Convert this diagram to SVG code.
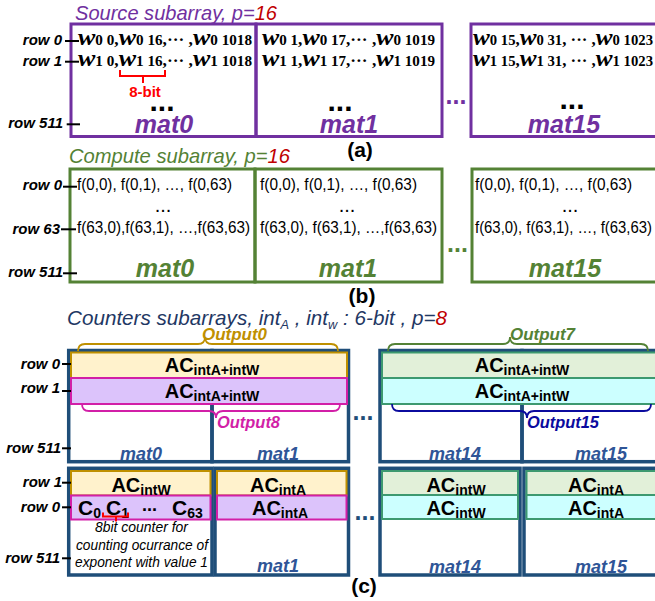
<svg xmlns="http://www.w3.org/2000/svg" width="655" height="601" viewBox="0 0 655 601">
<style>
text{font-family:'Liberation Sans',Arial,sans-serif;fill:#000}
.lbl{font-weight:bold;font-style:italic;font-size:15px;text-anchor:end}
.tick{stroke:#000;stroke-width:2}
.ttl{font-style:italic;font-size:21px}
.fa{fill:none;stroke:#7030A0;stroke-width:3}
.fb{fill:none;stroke:#548235;stroke-width:3}
.fc{fill:none;stroke:#1F4E79;stroke-width:3.5}
.ma{font-weight:bold;font-style:italic;font-size:25px;fill:#7030A0;text-anchor:middle}
.mb{font-weight:bold;font-style:italic;font-size:25px;fill:#548235;text-anchor:middle}
.mc{font-weight:bold;font-style:italic;font-size:18px;fill:#2F5597;text-anchor:middle}
.w{font-family:'Liberation Serif',serif;font-weight:bold;font-size:14px}
.wi{font-style:italic;font-size:24px}
.cm{font-size:16px}
.f{font-size:16px}
.ac{font-weight:bold;font-size:20px;text-anchor:middle}
.s{font-size:14px}
.out{font-weight:bold;font-style:italic;font-size:17px}
.note{font-style:italic;font-size:14px;text-anchor:middle}
.dots{font-weight:bold;text-anchor:middle}
.y{fill:#FFF2CC;stroke:#BF9000;stroke-width:2}
.p{fill:#DCC3FB;stroke:#D21FA7;stroke-width:2}
.g{fill:#E2F0D9;stroke:#3D9970;stroke-width:2}
.c{fill:#CCFFFF;stroke:#3D9970;stroke-width:2}
.br{fill:none;stroke-width:1.8}
</style>

<!-- ===== (a) Source subarray ===== -->
<text class="ttl" x="75" y="20" textLength="202" lengthAdjust="spacingAndGlyphs" style="fill:#7030A0">Source subarray, p=<tspan style="fill:#C00000">16</tspan></text>
<g id="a-rows">
<text class="lbl" x="62" y="45">row 0</text>
<text class="lbl" x="62" y="66">row 1</text>
<text class="lbl" x="63" y="128">row 511</text>
</g>
<g id="a-mat0">
<rect class="fa" x="71" y="24" width="185" height="112.5"/>
<text class="w" x="78" y="45" textLength="174" lengthAdjust="spacingAndGlyphs"><tspan class="wi">w</tspan>0 0<tspan class="cm">,</tspan><tspan class="wi">w</tspan>0 16<tspan class="cm">,··· ,</tspan><tspan class="wi">w</tspan>0 1018</text>
<text class="w" x="78" y="66" textLength="174" lengthAdjust="spacingAndGlyphs"><tspan class="wi">w</tspan>1 0<tspan class="cm">,</tspan><tspan class="wi">w</tspan>1 16<tspan class="cm">,··· ,</tspan><tspan class="wi">w</tspan>1 1018</text>
<path d="M120,70 L120,76 L165,76 L165,70 M143,76 L143,83" fill="none" stroke="#FF0000" stroke-width="2"/>
<text x="145" y="97" style="font-weight:bold;font-size:15px;fill:#FF0000;text-anchor:middle">8-bit</text>
<text class="dots" x="162" y="111" style="font-size:30px">...</text>
<text class="ma" x="164" y="133">mat0</text>
</g>
<g id="a-mat1">
<rect class="fa" x="256" y="24" width="186" height="112.5"/>
<text class="w" x="262" y="45" textLength="173" lengthAdjust="spacingAndGlyphs"><tspan class="wi">w</tspan>0 1<tspan class="cm">,</tspan><tspan class="wi">w</tspan>0 17<tspan class="cm">,··· ,</tspan><tspan class="wi">w</tspan>0 1019</text>
<text class="w" x="262" y="66" textLength="173" lengthAdjust="spacingAndGlyphs"><tspan class="wi">w</tspan>1 1<tspan class="cm">,</tspan><tspan class="wi">w</tspan>1 17<tspan class="cm">,··· ,</tspan><tspan class="wi">w</tspan>1 1019</text>
<text class="dots" x="340" y="111" style="font-size:30px">...</text>
<text class="ma" x="349" y="133">mat1</text>
</g>
<text class="dots" x="456" y="104" style="font-size:25px;fill:#7030A0">...</text>
<g id="a-mat15">
<rect class="fa" x="471" y="24" width="200" height="112.5"/>
<text class="w" x="473" y="45" textLength="180" lengthAdjust="spacingAndGlyphs"><tspan class="wi">w</tspan>0 15<tspan class="cm">,</tspan><tspan class="wi">w</tspan>0 31<tspan class="cm">, ··· ,</tspan><tspan class="wi">w</tspan>0 1023</text>
<text class="w" x="473" y="66" textLength="180" lengthAdjust="spacingAndGlyphs"><tspan class="wi">w</tspan>1 15<tspan class="cm">,</tspan><tspan class="wi">w</tspan>1 31<tspan class="cm">, ··· ,</tspan><tspan class="wi">w</tspan>1 1023</text>
<text class="dots" x="572" y="109" style="font-size:30px">...</text>
<text class="ma" x="564" y="133">mat15</text>
</g>
<text x="360" y="157" style="font-weight:bold;font-size:21px;text-anchor:middle">(a)</text>

<!-- ===== (b) Compute subarray ===== -->
<text class="ttl" x="69" y="163" textLength="221" lengthAdjust="spacingAndGlyphs" style="fill:#548235">Compute subarray, p=<tspan style="fill:#C00000">16</tspan></text>
<g id="b-rows">
<text class="lbl" x="62" y="190">row 0</text>
<text class="lbl" x="60" y="234">row 63</text>
<text class="lbl" x="63" y="277">row 511</text>
</g>
<g id="b-mat0">
<rect class="fb" x="70" y="169" width="185" height="113"/>
<text class="f" x="77" y="190" textLength="155" lengthAdjust="spacingAndGlyphs">f(0,0), f(0,1), …, f(0,63)</text>
<text x="163" y="212" style="font-size:20px;text-anchor:middle">...</text>
<text class="f" x="77" y="233" textLength="173" lengthAdjust="spacingAndGlyphs">f(63,0),f(63,1), …,f(63,63)</text>
<text class="mb" x="165" y="277">mat0</text>
</g>
<g id="b-mat1">
<rect class="fb" x="255" y="169" width="187" height="113"/>
<text class="f" x="260" y="190" textLength="157" lengthAdjust="spacingAndGlyphs">f(0,0), f(0,1), …, f(0,63)</text>
<text x="347" y="212" style="font-size:20px;text-anchor:middle">...</text>
<text class="f" x="260" y="233" textLength="177" lengthAdjust="spacingAndGlyphs">f(63,0), f(63,1), …,f(63,63)</text>
<text class="mb" x="348" y="277">mat1</text>
</g>
<text class="dots" x="457.5" y="252" style="font-size:25px;fill:#548235">...</text>
<g id="b-mat15">
<rect class="fb" x="472" y="169" width="200" height="113"/>
<text class="f" x="475" y="190" textLength="157" lengthAdjust="spacingAndGlyphs">f(0,0), f(0,1), …, f(0,63)</text>
<text x="570" y="212" style="font-size:20px;text-anchor:middle">...</text>
<text class="f" x="475" y="233" textLength="177" lengthAdjust="spacingAndGlyphs">f(63,0), f(63,1), …, f(63,63)</text>
<text class="mb" x="565" y="277">mat15</text>
</g>
<text x="362" y="303" style="font-weight:bold;font-size:21px;text-anchor:middle">(b)</text>

<!-- ===== (c) Counters subarrays ===== -->
<text class="ttl" x="67" y="325" textLength="380" lengthAdjust="spacingAndGlyphs" style="fill:#1F3864">Counters subarrays,  int<tspan dy="4" style="font-size:13px">A</tspan><tspan dy="-4"> , int</tspan><tspan dy="4" style="font-size:13px">w</tspan><tspan dy="-4"> : 6-bit , p=</tspan><tspan style="fill:#C00000">8</tspan></text>
<g id="c-rows">
<text class="lbl" x="60" y="369">row 0</text>
<text class="lbl" x="60" y="393">row 1</text>
<text class="lbl" x="61" y="453">row 511</text>
<text class="lbl" x="62" y="487">row 1</text>
<text class="lbl" x="60" y="512">row 0</text>
<text class="lbl" x="60" y="563">row 511</text>
</g>

<g id="c-top-mat0">
<rect class="fc" x="68.7" y="350.5" width="143.3" height="111.2"/>
<text class="mc" x="141" y="460">mat0</text>
</g>
<g id="c-top-mat1">
<rect class="fc" x="212" y="350.5" width="136.5" height="111.2"/>
<text class="mc" x="278" y="460">mat1</text>
</g>
<g id="c-top-rows01">
<rect class="y" x="71" y="352.5" width="276" height="25.5"/>
<rect class="p" x="71" y="378" width="276" height="26"/>
<text class="ac" x="212" y="372">AC<tspan class="s" dy="3">intA+intW</tspan></text>
<text class="ac" x="212" y="398">AC<tspan class="s" dy="3">intA+intW</tspan></text>
</g>
<text class="dots" x="363" y="420" style="font-size:25px;fill:#1F4E79">...</text>
<g id="c-top-mat14">
<rect class="fc" x="380" y="350.5" width="142" height="111.2"/>
<text class="mc" x="455" y="460">mat14</text>
</g>
<g id="c-top-mat15">
<rect class="fc" x="522" y="350.5" width="150" height="111.2"/>
<text class="mc" x="601" y="460">mat15</text>
</g>
<g id="c-top-rows01-right">
<rect class="g" x="382" y="352.5" width="280" height="25.5"/>
<rect class="c" x="382" y="378" width="280" height="26"/>
<text class="ac" x="522" y="372">AC<tspan class="s" dy="3">intA+intW</tspan></text>
<text class="ac" x="522" y="398">AC<tspan class="s" dy="3">intA+intW</tspan></text>
</g>

<g id="c-bot-mat0">
<rect class="fc" x="68.7" y="468.3" width="143.3" height="106.7"/>
<rect class="y" x="71" y="471" width="139.5" height="24.5"/>
<rect class="p" x="71" y="495.5" width="139.5" height="24"/>
<text class="ac" x="141" y="492">AC<tspan class="s" dy="3">intW</tspan></text>
<text class="ac" x="78" y="515" style="text-anchor:start;font-size:21px">C<tspan class="s" dy="3">0</tspan></text>
<text class="ac" x="106" y="515" style="text-anchor:start;font-size:21px">C<tspan class="s" dy="3">1</tspan></text>
<text x="149.5" y="511" style="font-weight:bold;font-size:18px;text-anchor:middle">...</text>
<text class="ac" x="172" y="515" style="text-anchor:start;font-size:21px">C<tspan class="s" dy="3">63</tspan></text>
<path d="M103,512.5 L103,516.5 L128,516.5 L128,512.5 M116,516.5 L116,521.5" fill="none" stroke="#FF0000" stroke-width="2"/>
<text class="note" x="141.5" y="532" textLength="93" lengthAdjust="spacingAndGlyphs">8bit counter for</text>
<text class="note" x="142" y="550" textLength="132" lengthAdjust="spacingAndGlyphs">counting ocurrance of</text>
<text class="note" x="141.5" y="567" textLength="133" lengthAdjust="spacingAndGlyphs">exponent with value 1</text>
</g>
<g id="c-bot-mat1">
<rect class="fc" x="215" y="468.3" width="133.5" height="106.7"/>
<rect class="y" x="217" y="471" width="129.5" height="24.5"/>
<rect class="p" x="217" y="495.5" width="129.5" height="24"/>
<text class="ac" x="278" y="492">AC<tspan class="s" dy="3">intA</tspan></text>
<text class="ac" x="280" y="515">AC<tspan class="s" dy="3">intA</tspan></text>
<text class="mc" x="278" y="572">mat1</text>
</g>
<text class="dots" x="365" y="520" style="font-size:25px;fill:#1F4E79">...</text>
<g id="c-bot-mat14">
<rect class="fc" x="380" y="468.3" width="140" height="106.7"/>
<rect class="g" x="382" y="471" width="136" height="24"/>
<rect class="c" x="382" y="495" width="136" height="24"/>
<text class="ac" x="456" y="492">AC<tspan class="s" dy="3">intW</tspan></text>
<text class="ac" x="456" y="515">AC<tspan class="s" dy="3">intW</tspan></text>
<text class="mc" x="455" y="573">mat14</text>
</g>
<g id="c-bot-mat15">
<rect class="fc" x="524" y="468.3" width="150" height="106.7"/>
<rect class="g" x="526.5" y="471" width="140" height="24"/>
<rect class="c" x="526.5" y="495" width="140" height="24"/>
<text class="ac" x="596" y="492">AC<tspan class="s" dy="3">intA</tspan></text>
<text class="ac" x="596" y="515">AC<tspan class="s" dy="3">intA</tspan></text>
<text class="mc" x="601" y="573">mat15</text>
</g>
<text x="364" y="593" style="font-weight:bold;font-size:21px;text-anchor:middle">(c)</text>

<!-- ===== connectors: row ticks and output braces ===== -->
<g id="connectors">
<line class="tick" x1="65" y1="41" x2="79" y2="41"/>
<line class="tick" x1="65" y1="61.7" x2="79" y2="61.7"/>
<line class="tick" x1="66.7" y1="124.3" x2="80" y2="124.3"/>
<line class="tick" x1="63" y1="186.7" x2="77" y2="186.7"/>
<line class="tick" x1="61" y1="229.3" x2="76" y2="229.3"/>
<line class="tick" x1="63" y1="273.3" x2="77" y2="273.3"/>
<line class="tick" x1="62" y1="364" x2="71" y2="364"/>
<line class="tick" x1="62" y1="391" x2="71" y2="391"/>
<line class="tick" x1="62" y1="448.3" x2="71" y2="448.3"/>
<line class="tick" x1="62" y1="482.7" x2="71" y2="482.7"/>
<line class="tick" x1="62" y1="507.3" x2="71" y2="507.3"/>
<line class="tick" x1="62" y1="558.3" x2="71" y2="558.3"/>
<path class="br" stroke="#BF9000" d="M78,351 Q78,344 85,344 L198,344 Q205,344 205,337 Q205,344 212,344 L331,344 Q338,344 338,351"/>
<path class="br" stroke="#548235" d="M388,351 Q388,344 395,344 L503,344 Q510,344 510,337 Q510,344 517,344 L641,344 Q648,344 648,351"/>
<path class="br" stroke="#D21FA7" d="M82,404 Q82,411 89,411 L209,411 Q216,411 216,418 Q216,411 223,411 L333,411 Q340,411 340,404"/>
<path class="br" stroke="#0B0B9E" d="M392,404 Q392,411 399,411 L520,411 Q527,411 527,418 Q527,411 534,411 L644,411 Q651,411 651,404"/>
</g>
<text class="out" x="202" y="340" textLength="65" lengthAdjust="spacingAndGlyphs" style="fill:#BF9000">Output0</text>
<text class="out" x="510" y="340" textLength="65" lengthAdjust="spacingAndGlyphs" style="fill:#548235">Output7</text>
<text class="out" x="217" y="427.5" textLength="63" lengthAdjust="spacingAndGlyphs" style="fill:#D21FA7">Output8</text>
<text class="out" x="527" y="427.5" textLength="72" lengthAdjust="spacingAndGlyphs" style="fill:#0B0B9E">Output15</text>
</svg>
